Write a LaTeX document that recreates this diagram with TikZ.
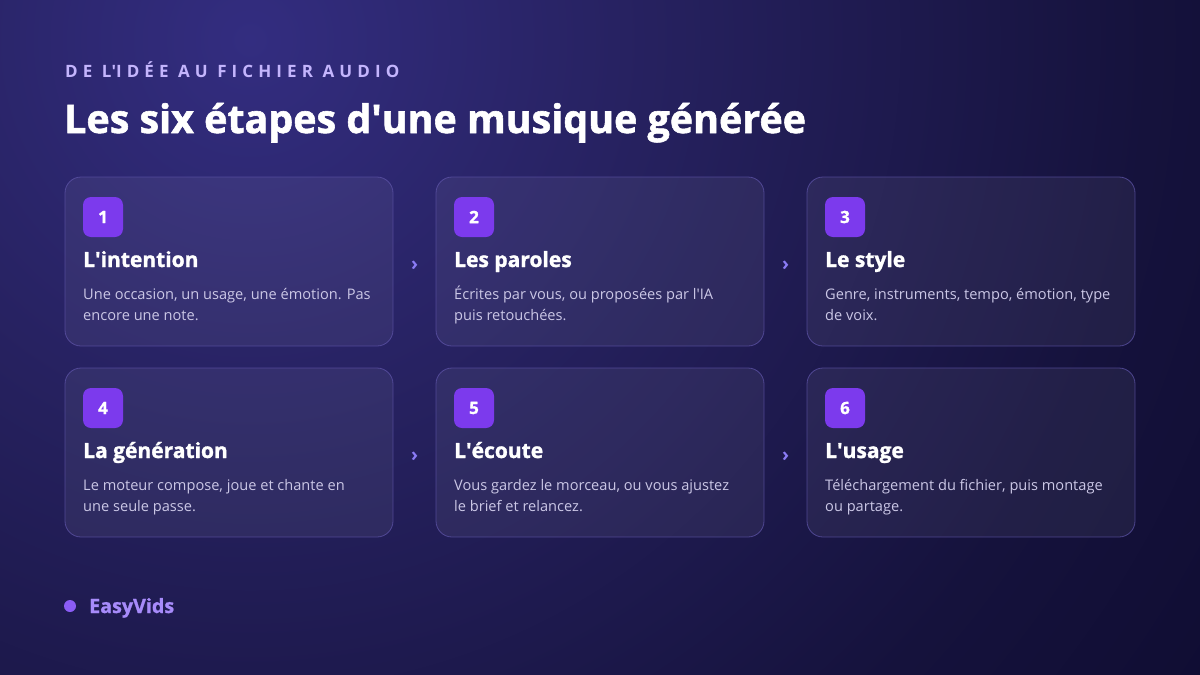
\documentclass[tikz,border=0pt]{standalone}
\usepackage{fontspec}
\setmainfont{Open Sans}
\definecolor{bgA}{HTML}{332D80}
\definecolor{bgB}{HTML}{26215F}
\definecolor{bgC}{HTML}{15123C}
\definecolor{bgD}{HTML}{100D33}
\definecolor{cardline}{HTML}{5E54A8}
\definecolor{badgecol}{HTML}{7C3AED}
\definecolor{desccol}{HTML}{CBC7E6}
\definecolor{kicker}{HTML}{C4B5FD}
\definecolor{chevcol}{HTML}{8B7CF6}
\definecolor{dotcol}{HTML}{8B5CF6}
\definecolor{brandcol}{HTML}{A78BFA}
\pgfdeclareradialshading{bgglow}{\pgfpoint{0bp}{0bp}}{color(0bp)=(bgA); color(10bp)=(bgB); color(22.5bp)=(bgC); color(28.75bp)=(bgD); color(50bp)=(bgD)}
\newcommand\ap{\textquotesingle}
\tikzset{
  card/.style={rectangle, rounded corners=16pt, minimum width=328pt, minimum height=169pt, inner sep=0pt,
    draw=cardline, draw opacity=0.75, line width=0.8pt, fill=white, fill opacity=0.06},
  badge/.style={rectangle, rounded corners=8pt, minimum width=40pt, minimum height=40pt, inner sep=0pt,
    fill=badgecol, text=white, font=\fontsize{17}{18}\selectfont\bfseries\addfontfeature{FakeBold=1.2}},
  cardtitle/.style={anchor=base west, inner sep=0pt, text=white, font=\fontsize{21}{24}\selectfont\bfseries\addfontfeature{FakeBold=1.3}},
  carddesc/.style={anchor=base west, inner sep=0pt, text=desccol, font=\fontsize{14.6}{17}\selectfont},
  chev/.style={inner sep=0pt, text=chevcol, font=\fontsize{19}{20}\selectfont\bfseries},
}
\newcommand\stepcard[7]{%
  \node[card] (#1) at (#2+164,#3+84.5) {};
  \node[badge] (#1b) at (#2+38,#3+40) {#4};
  \node[cardtitle] (#1t) at (#2+18,#3+90) {#5};
  \node[carddesc] (#1da) at (#2+18,#3+122) {#6};
  \node[carddesc] (#1db) at (#2+18,#3+143) {#7};
}
\begin{document}
\begin{tikzpicture}[x=1pt,y=-1pt]
\useasboundingbox (0,0) rectangle (1200,675);
\begin{scope}
\clip (0,0) rectangle (1200,675);
\shade[shading=bgglow] (250-1000,40-1000) rectangle (250+1000,40+1000);
\end{scope}
% header
\node[anchor=base west, inner sep=0pt, text=kicker, font=\fontsize{17}{20}\selectfont\bfseries\addfontfeature{LetterSpace=30}] (kick) at (65,77) {DE L\ap ID\'EE AU FICHIER AUDIO};
\node[anchor=base west, inner sep=0pt, text=white, font=\fontsize{39.4}{42}\selectfont\bfseries\addfontfeature{FakeBold=1.5}] (title) at (64,133) {Les six étapes d\ap une musique générée};
% cards
\stepcard{c1}{65}{177}{1}{L\ap intention}{Une occasion, un usage, une émotion. Pas}{encore une note.}
\stepcard{c2}{436}{177}{2}{Les paroles}{Écrites par vous, ou proposées par l\ap IA}{puis retouchées.}
\stepcard{c3}{807}{177}{3}{Le style}{Genre, instruments, tempo, émotion, type}{de voix.}
\stepcard{c4}{65}{368}{4}{La génération}{Le moteur compose, joue et chante en}{une seule passe.}
\stepcard{c5}{436}{368}{5}{L\ap écoute}{Vous gardez le morceau, ou vous ajustez}{le brief et relancez.}
\stepcard{c6}{807}{368}{6}{L\ap usage}{Téléchargement du fichier, puis montage}{ou partage.}
% chevrons
\node[chev] (a12) at (414.5,266) {›};
\node[chev] (a23) at (785.5,266) {›};
\node[chev] (a45) at (414.5,457) {›};
\node[chev] (a56) at (785.5,457) {›};
% footer
\fill[dotcol] (70,606) circle (6);
\node[anchor=base west, inner sep=0pt, text=brandcol, font=\fontsize{19.7}{22}\selectfont\bfseries\addfontfeature{FakeBold=1}] (brand) at (89,613) {EasyVids};
\end{tikzpicture}
\end{document}
